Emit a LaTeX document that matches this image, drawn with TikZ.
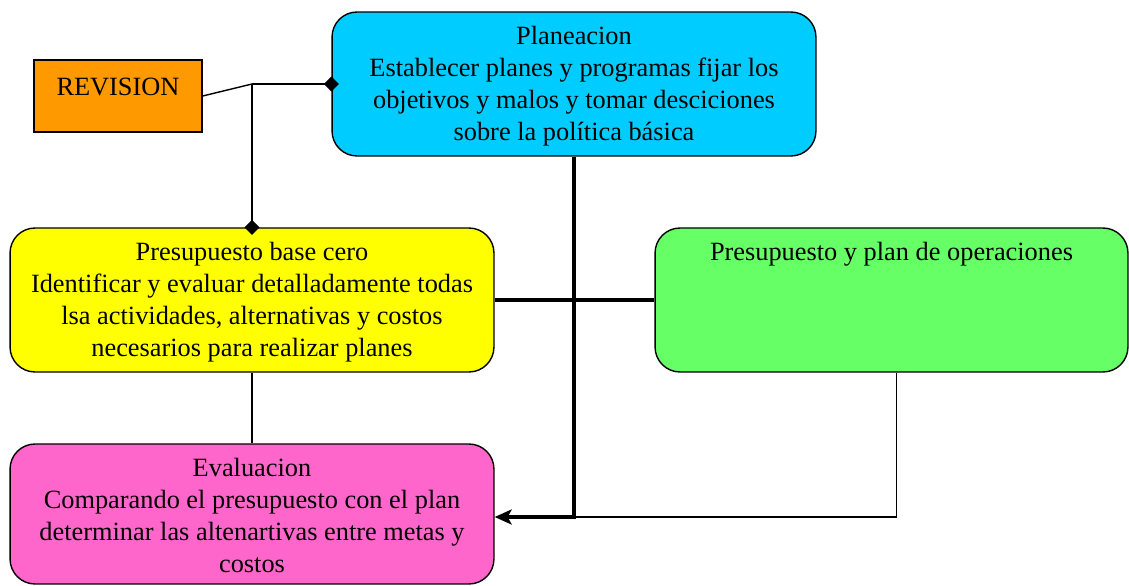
\documentclass[tikz,border=0pt]{standalone}
\usepackage{fontspec}
\setmainfont{Liberation Serif}
\usetikzlibrary{arrows.meta}

\definecolor{revorange}{HTML}{FF9900}
\definecolor{plancyan}{HTML}{00CCFF}
\definecolor{ceroyellow}{HTML}{FFFF00}
\definecolor{opergreen}{HTML}{66FF66}
\definecolor{evalpink}{HTML}{FF66CC}

\tikzset{
    box/.style = {draw, line width = 0.8pt, rounded corners = 0.5cm, minimum width = 9.68cm, minimum height = 2.88cm},
    boxtext/.style = {anchor = north, align = center, inner sep = 0pt, font = \fontsize{15}{18.2}\selectfont},
    linkline/.style = {line width = 0.8pt},
    heavyline/.style = {line width = 2.8pt},
    dtip/.style = {-{Diamond[length = 0.3cm, width = 0.3cm]}, shorten > = -0.15cm}
}

\begin{document}
\begin{tikzpicture}[x = 0.02cm, y = -0.02cm]
    \useasboundingbox (0,0) rectangle (1129,585);
    % boxes
    \node[draw, line width = 0.8pt, fill = revorange, minimum width = 3.36cm, minimum height = 1.44cm] (rev) at (118,96) {};
    \node[box, fill = plancyan] (plan) at (574,84) {};
    \node[box, fill = ceroyellow] (cero) at (252,300) {};
    \node[box, fill = opergreen, minimum width = 9.46cm] (oper) at (891.5,300) {};
    \node[box, fill = evalpink, minimum height = 2.8cm] (eval) at (252,514) {};
    % texts
    \node[boxtext, anchor = center] (revtext) at ([yshift = 0.18cm]rev.center) {REVISION};
    \node[boxtext] (plantext) at ([yshift = -0.3cm]plan.north) {Planeacion\\Establecer planes y programas fijar los\\objetivos y malos y tomar desciciones\\sobre la política básica};
    \node[boxtext] (cerotext) at ([yshift = -0.3cm]cero.north) {Presupuesto base cero\\Identificar y evaluar detalladamente todas\\lsa actividades, alternativas y costos\\necesarios para realizar planes};
    \node[boxtext] (opertext) at ([yshift = -0.3cm]oper.north) {Presupuesto y plan de operaciones};
    \node[boxtext] (evaltext) at ([yshift = -0.3cm]eval.north) {Evaluacion\\Comparando el presupuesto con el plan\\determinar las altenartivas entre metas y\\costos};
    % connectors
    \coordinate (revjoin) at (252,84);
    \coordinate (evaljoin) at (574,517);
    \draw[linkline] (rev.east) -- (revjoin);
    \draw[linkline, dtip] (revjoin) -- (plan.west);
    \draw[linkline, dtip] (revjoin) -- (revjoin |- cero.north);
    \draw[linkline] (cero.south) -- (eval.north);
    \draw[linkline] ([xshift = 0.1cm]oper.south) |- (evaljoin);
    \draw[heavyline] (cero.east) -- (oper.west);
    \draw[heavyline, -{Stealth[length = 0.34cm, width = 0.3cm, inset = 0.08cm]}] (plan.south) -- (evaljoin) -- (evaljoin -| eval.east);
\end{tikzpicture}
\end{document}
